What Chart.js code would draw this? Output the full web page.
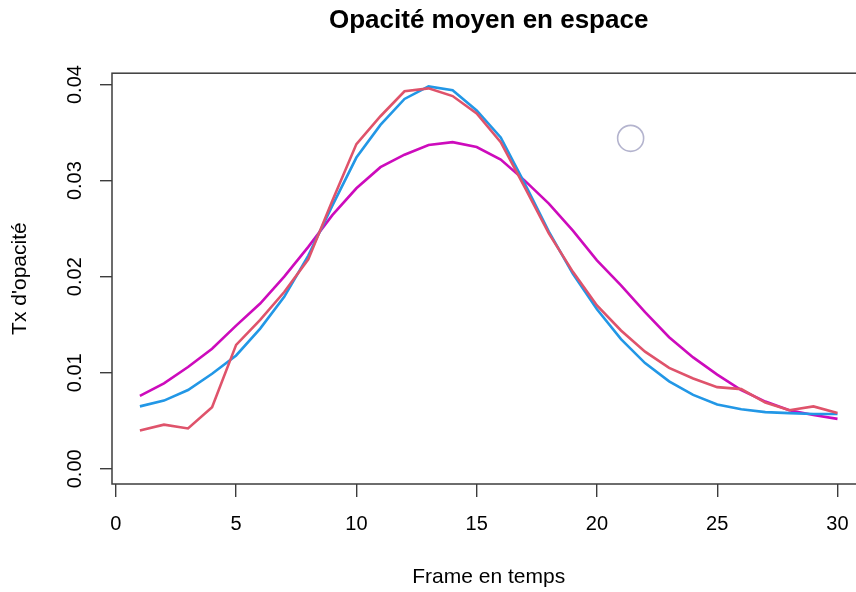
<!DOCTYPE html>
<html>
<head>
<meta charset="utf-8">
<script src="https://cdn.jsdelivr.net/npm/chart.js@4.4.1/dist/chart.umd.min.js"></script>
<style>
  html, body { margin: 0; padding: 0; background: #fff; overflow: hidden; }
</style>
</head>
<body>
<canvas id="chart" width="880" height="592"></canvas>
<script>
const frames = [1, 2, 3, 4, 5, 6, 7, 8, 9, 10, 11, 12, 13, 14, 15, 16, 17, 18, 19, 20, 21, 22, 23, 24, 25, 26, 27, 28, 29, 30];

const redValues = [0.0040, 0.0046, 0.0042, 0.0064, 0.0129, 0.0155, 0.0184, 0.0218, 0.0279, 0.0338,
                   0.0367, 0.0393, 0.0396, 0.0388, 0.0370, 0.0340, 0.0293, 0.0245, 0.0205, 0.0170,
                   0.0144, 0.0122, 0.0105, 0.0094, 0.0085, 0.0083, 0.0069, 0.0061, 0.0065, 0.0058];

const blueValues = [0.0065, 0.0071, 0.0082, 0.0099, 0.0118, 0.0146, 0.0179, 0.0222, 0.0274, 0.0324,
                    0.0358, 0.0385, 0.0398, 0.0394, 0.0373, 0.0345, 0.0297, 0.0247, 0.0203, 0.0166,
                    0.0135, 0.0110, 0.0091, 0.0077, 0.0067, 0.0062, 0.0059, 0.0058, 0.0057, 0.0057];

const magentaValues = [0.0076, 0.0089, 0.0106, 0.0125, 0.0149, 0.0172, 0.0200, 0.0231, 0.0264, 0.0292,
                       0.0314, 0.0327, 0.0337, 0.0340, 0.0335, 0.0322, 0.0300, 0.0276, 0.0248, 0.0217,
                       0.0191, 0.0163, 0.0137, 0.0116, 0.0098, 0.0082, 0.0070, 0.0061, 0.0056, 0.0052];

// the lone open circle in the upper right
const markerPoint = [{x: 21.4, y: 0.0344}];

const xTicks = [0, 5, 10, 15, 20, 25, 30];
const yTicks = [0.00, 0.01, 0.02, 0.03, 0.04];

const axisColor = '#3c3c3c';
const fontFamily = '"Liberation Sans", Arial, sans-serif';

function toPoints(values) {
    return values.map((v, i) => {
        return {x: frames[i], y: v};
    });
}

function lineDataset(values, color) {
    return {
        type: 'line',
        data: toPoints(values),
        borderColor: color,
        backgroundColor: color,
        borderWidth: 2.6,
        pointRadius: 0,
        tension: 0
    };
}

// R draws a full box around the plot region
const boxPlugin = {
    id: 'box',
    afterDraw(chart) {
        const a = chart.chartArea;
        const ctx = chart.ctx;
        ctx.save();
        ctx.strokeStyle = axisColor;
        ctx.lineWidth = 1.5;
        ctx.strokeRect(a.left, a.top, a.right - a.left, a.bottom - a.top);
        ctx.restore();
    }
};

const chart = new Chart('chart', {
    data: {
        datasets: [
            lineDataset(redValues, '#DF536B'),
            lineDataset(blueValues, '#2297E6'),
            lineDataset(magentaValues, '#CD0BBC'),
            {
                type: 'scatter',
                data: markerPoint,
                pointStyle: 'circle',
                pointRadius: 13,
                borderColor: '#B4B4CE',
                backgroundColor: 'rgba(0,0,0,0)',
                borderWidth: 1.6
            }
        ]
    },
    options: {
        responsive: false,
        animation: false,
        events: [],
        layout: {
            padding: {left: 0, right: 6, top: 0, bottom: 0}
        },
        plugins: {
            legend: {display: false},
            tooltip: {enabled: false},
            title: {
                display: true,
                fullSize: false,
                text: 'Opacité moyen en espace',
                color: '#000',
                font: {family: fontFamily, size: 26, weight: 'bold'},
                padding: {top: 5, bottom: 37}
            }
        },
        scales: {
            x: {
                type: 'linear',
                min: -0.16,
                max: 31.16,
                afterFit: function(scale) { scale.height = 108; },
                afterBuildTicks: function(scale) {
                    scale.ticks = xTicks.map(v => ({value: v}));
                },
                border: {display: false},
                grid: {drawOnChartArea: false, drawTicks: true, tickLength: 13, color: axisColor, lineWidth: 1.4},
                ticks: {
                    autoSkip: false,
                    maxRotation: 0,
                    padding: 15,
                    color: '#000',
                    font: {family: fontFamily, size: 20}
                },
                title: {
                    display: true,
                    text: 'Frame en temps',
                    color: '#000',
                    font: {family: fontFamily, size: 21},
                    padding: {top: 0, bottom: 2}
                }
            },
            y: {
                type: 'linear',
                min: -0.00158,
                max: 0.04118,
                afterFit: function(scale) { scale.width = 112; },
                afterBuildTicks: function(scale) {
                    scale.ticks = yTicks.map(v => ({value: v}));
                },
                border: {display: false},
                grid: {drawOnChartArea: false, drawTicks: true, tickLength: 12, color: axisColor, lineWidth: 1.4},
                ticks: {
                    autoSkip: false,
                    minRotation: 90,
                    maxRotation: 90,
                    crossAlign: 'center',
                    padding: 5,
                    color: '#000',
                    font: {family: fontFamily, size: 20},
                    callback: function(value) { return value.toFixed(2); }
                },
                title: {
                    display: true,
                    text: "Tx d'opacité",
                    color: '#000',
                    font: {family: fontFamily, size: 21},
                    padding: {top: 8, bottom: 0}
                }
            }
        }
    },
    plugins: [boxPlugin]
});
</script>
</body>
</html>
